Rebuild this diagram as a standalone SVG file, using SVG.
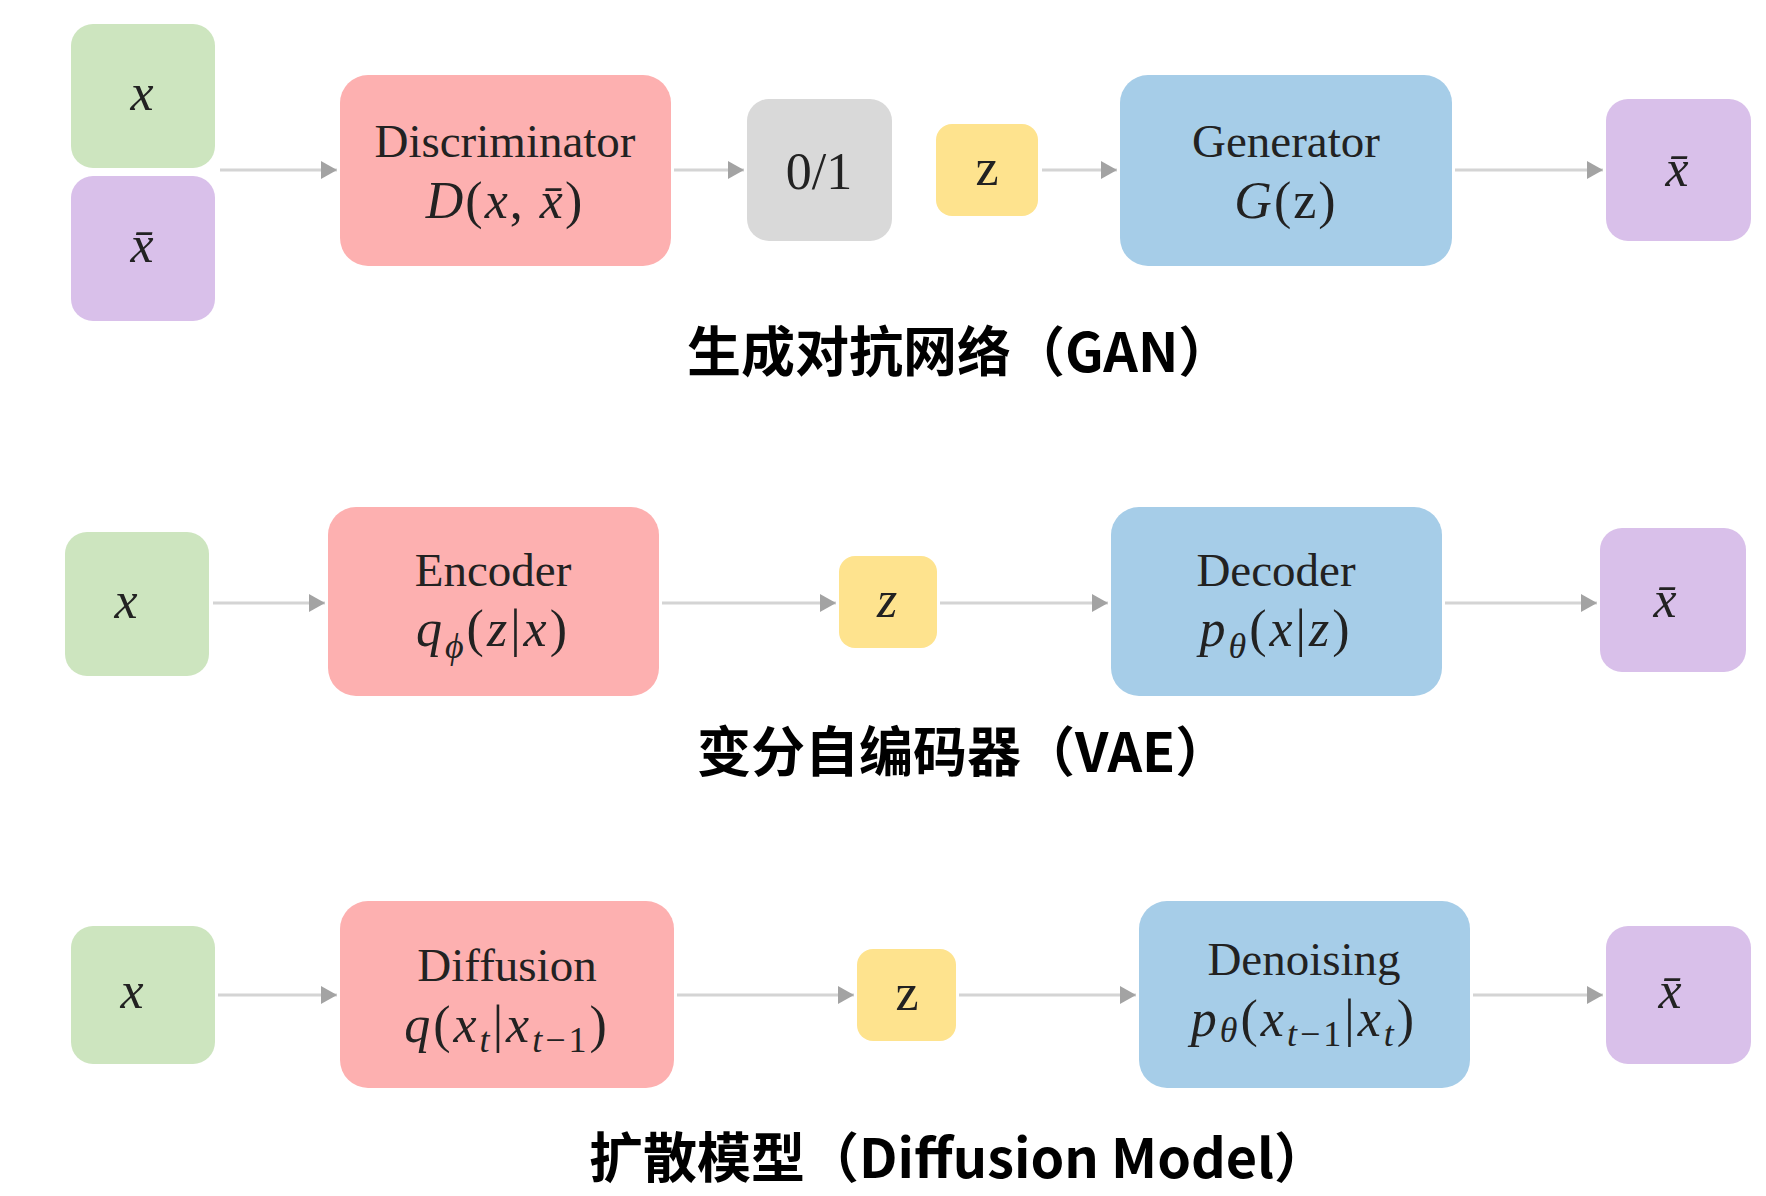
<svg xmlns="http://www.w3.org/2000/svg" width="1766" height="1196" viewBox="0 0 1766 1196">
<style>
.g{fill:#cde5bf}.p{fill:#d9c0ea}.r{fill:#fdb0b0}.gr{fill:#d9d9d9}.y{fill:#fee38e}.b{fill:#a6cde8}
.lb{font-family:"Liberation Serif",serif;font-size:47px;fill:#222;text-anchor:middle}
.m{font-family:"Liberation Serif",serif;font-style:italic;font-size:52px;fill:#222;text-anchor:middle;letter-spacing:2px}
.w{letter-spacing:3px}
.u{font-style:normal}
.s{font-size:36px}
.sv{font-family:"Liberation Serif",serif;font-size:52px;fill:#222;text-anchor:middle}
.ttl{font-family:"Noto Sans CJK SC","Noto Sans",sans-serif;font-weight:bold;font-size:54px;fill:#000}
.c{stroke:#d4d4d4;stroke-width:3;fill:none;marker-end:url(#ah)}
</style>
<defs>
<marker id="ah" markerUnits="userSpaceOnUse" markerWidth="16" markerHeight="18" refX="16" refY="9" orient="auto">
<path d="M0,0 L16,9 L0,18 Z" fill="#a3a3a3"/>
</marker>
</defs>
<rect width="1766" height="1196" fill="#fff"/>

<g id="connectors">
<line class="c" x1="220" y1="170" x2="337" y2="170"/>
<line class="c" x1="674" y1="170" x2="744" y2="170"/>
<line class="c" x1="1042" y1="170" x2="1117" y2="170"/>
<line class="c" x1="1455" y1="170" x2="1603" y2="170"/>
<line class="c" x1="213" y1="603" x2="325" y2="603"/>
<line class="c" x1="662" y1="603" x2="836" y2="603"/>
<line class="c" x1="940" y1="603" x2="1108" y2="603"/>
<line class="c" x1="1445" y1="603" x2="1597" y2="603"/>
<line class="c" x1="218" y1="995" x2="337" y2="995"/>
<line class="c" x1="677" y1="995" x2="854" y2="995"/>
<line class="c" x1="959" y1="995" x2="1136" y2="995"/>
<line class="c" x1="1473" y1="995" x2="1603" y2="995"/>
</g>

<!-- GAN -->
<g id="gan-x"><rect class="g" x="71" y="24" width="144" height="144" rx="22"/><text class="m" x="143" y="110">x</text></g>
<g id="gan-xbar"><rect class="p" x="71" y="176" width="144" height="145" rx="22"/><text class="m" x="143" y="262">x̄</text></g>
<g id="gan-disc"><rect class="r" x="340" y="75" width="331" height="191" rx="28"/>
<text class="lb" x="505" y="157">Discriminator</text>
<text class="m" x="505" y="218">D<tspan class="u">(</tspan>x<tspan class="u">,</tspan> x̄<tspan class="u">)</tspan></text></g>
<g id="gan-01"><rect class="gr" x="747" y="99" width="145" height="142" rx="22"/><text class="sv" x="819" y="189">0/1</text></g>
<g id="gan-z"><rect class="y" x="936" y="124" width="102" height="92" rx="16"/><text class="sv" x="987" y="185">z</text></g>
<g id="gan-gen"><rect class="b" x="1120" y="75" width="332" height="191" rx="28"/>
<text class="lb" x="1286" y="157">Generator</text>
<text class="m" x="1286" y="218">G<tspan class="u">(z)</tspan></text></g>
<g id="gan-out"><rect class="p" x="1606" y="99" width="145" height="142" rx="22"/><text class="m" x="1678" y="186">x̄</text></g>
<text class="ttl" x="687" y="372">生成对抗网络（GAN）</text>

<!-- VAE -->
<g id="vae-x"><rect class="g" x="65" y="532" width="144" height="144" rx="22"/><text class="m" x="127" y="618">x</text></g>
<g id="vae-enc"><rect class="r" x="328" y="507" width="331" height="189" rx="28"/>
<text class="lb" x="493" y="586">Encoder</text>
<text class="m w" x="493" y="646">q<tspan class="s" dy="12">ϕ</tspan><tspan class="u" dy="-12">(</tspan>z<tspan class="u">|</tspan>x<tspan class="u">)</tspan></text></g>
<g id="vae-z"><rect class="y" x="839" y="556" width="98" height="92" rx="16"/><text class="m" x="888" y="617">z</text></g>
<g id="vae-dec"><rect class="b" x="1111" y="507" width="331" height="189" rx="28"/>
<text class="lb" x="1276" y="586">Decoder</text>
<text class="m w" x="1276" y="646">p<tspan class="s" dy="12">θ</tspan><tspan class="u" dy="-12">(</tspan>x<tspan class="u">|</tspan>z<tspan class="u">)</tspan></text></g>
<g id="vae-out"><rect class="p" x="1600" y="528" width="146" height="144" rx="22"/><text class="m" x="1666" y="617">x̄</text></g>
<text class="ttl" x="697" y="772" font-size="52.5">变分自编码器（VAE）</text>

<!-- Diffusion -->
<g id="dm-x"><rect class="g" x="71" y="926" width="144" height="138" rx="22"/><text class="m" x="133" y="1008">x</text></g>
<g id="dm-diff"><rect class="r" x="340" y="901" width="334" height="187" rx="28"/>
<text class="lb" x="507" y="981">Diffusion</text>
<text class="m w" x="507" y="1042">q<tspan class="u">(</tspan>x<tspan class="s" dy="10">t</tspan><tspan class="u" dy="-10">|</tspan>x<tspan class="s" dy="10">t<tspan class="u">−1</tspan></tspan><tspan class="u" dy="-10">)</tspan></text></g>
<g id="dm-z"><rect class="y" x="857" y="949" width="99" height="92" rx="16"/><text class="sv" x="907" y="1010">z</text></g>
<g id="dm-den"><rect class="b" x="1139" y="901" width="331" height="187" rx="28"/>
<text class="lb" x="1304" y="975">Denoising</text>
<text class="m w" x="1304" y="1036">p<tspan class="s" dy="6">θ</tspan><tspan class="u" dy="-6">(</tspan>x<tspan class="s" dy="10">t<tspan class="u">−1</tspan></tspan><tspan class="u" dy="-10">|</tspan>x<tspan class="s" dy="10">t</tspan><tspan class="u" dy="-10">)</tspan></text></g>
<g id="dm-out"><rect class="p" x="1606" y="926" width="145" height="138" rx="22"/><text class="m" x="1671" y="1008">x̄</text></g>
<text class="ttl" x="589" y="1178" font-size="53.5">扩散模型（Diffusion Model）</text>
</svg>
